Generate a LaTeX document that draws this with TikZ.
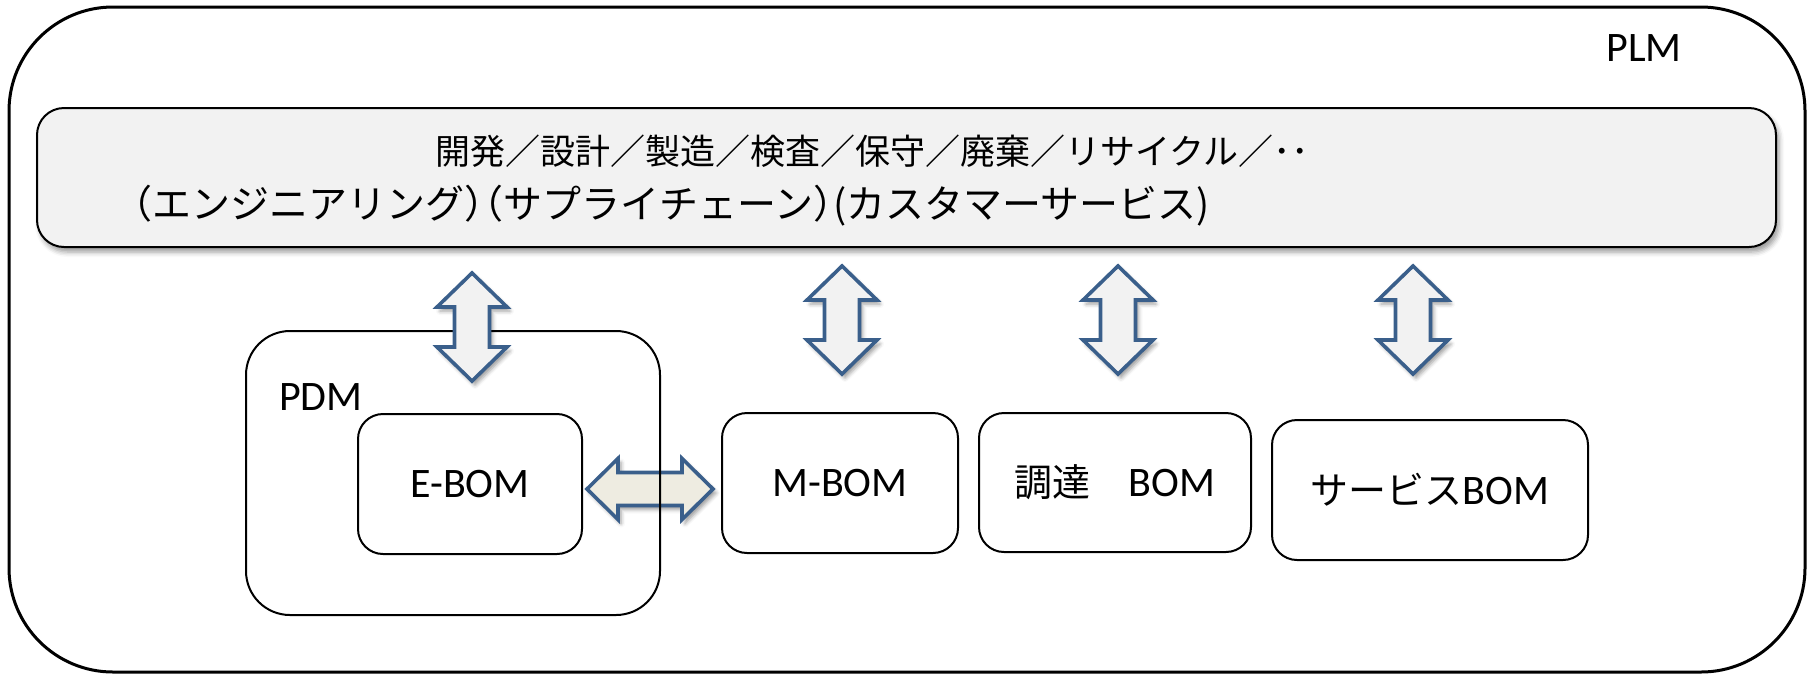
\documentclass[tikz,border=0pt]{standalone}
\usepackage{fontspec}
\setmainfont{Carlito}
\newfontfamily\jp{Noto Sans CJK JP}
\newfontfamily\jphalt[RawFeature=+halt]{Noto Sans CJK JP}
\usetikzlibrary{shadows.blur}
\definecolor{arrowblue}{HTML}{3A5F8B}
\definecolor{barfill}{HTML}{F2F2F2}
\definecolor{tanfill}{HTML}{EEECE1}
\newcommand\myvarrow[4]{% name, x, top, bottom
  \coordinate (#1) at (#2,{(#3+#4)/2});
  \draw[blockarrow, fill=barfill] (#2,#3) -- (#2+35,#3+34) -- (#2+17.5,#3+34) -- (#2+17.5,#4-34) -- (#2+35,#4-34) -- (#2,#4) -- (#2-35,#4-34) -- (#2-17.5,#4-34) -- (#2-17.5,#3+34) -- (#2-35,#3+34) -- cycle;}
\begin{document}
\begin{tikzpicture}[x=0.5pt,y=-0.5pt,
  plmbox/.style={draw, line width=1.5pt, rounded corners=52pt, minimum width=898pt, minimum height=332.5pt, inner sep=0},
  barbox/.style={draw, line width=1pt, fill=barfill, rounded corners=13.5pt, inner sep=0,
     blur shadow={shadow xshift=1.5pt, shadow yshift=-2.5pt, shadow blur radius=2.5pt}},
  pdmbox/.style={draw, line width=1pt, rounded corners=22pt, inner sep=0},
  bombox/.style={draw, line width=1pt, fill=white, rounded corners=12.5pt, inner sep=0, font=\fontsize{21}{25}\selectfont},
  blockarrow/.style={draw=arrowblue, line width=1.8pt, line join=miter,
     blur shadow={shadow xshift=1.5pt, shadow yshift=-2pt, shadow blur radius=2pt}},
  lbl/.style={font=\fontsize{21}{25}\selectfont, inner sep=0},
  jptext/.style={font=\jp\fontsize{17.5}{21}\selectfont, anchor=west, inner sep=0},
]
\useasboundingbox (0,0) rectangle (1813,676);
\node[plmbox] (plm) at (907,339.5) {};
\node[lbl] (plmlabel) at (1644,48) {PLM};
\node[barbox, minimum width=869.5pt, minimum height=69.5pt] (bar) at (906.5,177.5) {};
\node[jptext] (line1) at (435,151) {開発／設計／製造／検査／保守／廃棄／リサイクル／･･};
\node[jptext, font=\jphalt\fontsize{19.5}{23}\selectfont] (line2) at (133,206) {（エンジニアリング）（サプライチェーン）(カスタマーサービス)};
% horizontal arrow E-BOM <-> M-BOM
\draw[blockarrow, fill=tanfill] (587,489) -- (618,458.5) -- (618,472.5) -- (682,472.5) -- (682,458.5) -- (713,489) -- (682,519.5) -- (682,505.5) -- (618,505.5) -- (618,519.5) -- cycle;
\node[pdmbox, minimum width=207pt, minimum height=142pt] (pdm) at (453,473) {};
\node[lbl] (pdmlabel) at (321,397) {PDM};
\node[bombox, minimum width=112pt, minimum height=70pt] (ebom) at (470,484) {E-BOM};
\node[bombox, minimum width=118pt, minimum height=70pt] (mbom) at (840,483) {M-BOM};
\node[bombox, minimum width=136pt, minimum height=69.5pt] (cbom) at (1115,482.5) {{\jp\fontsize{19}{23}\selectfont 調達　}BOM};
\node[bombox, minimum width=158pt, minimum height=70pt] (sbom) at (1430,490) {{\jp\fontsize{19}{23}\selectfont サービス}BOM};
% vertical arrows bar <-> BOMs
\myvarrow{va1}{472}{273}{381}
\myvarrow{va2}{842}{266}{374}
\myvarrow{va3}{1118}{266}{374}
\myvarrow{va4}{1413}{266}{374}
\end{tikzpicture}
\end{document}
